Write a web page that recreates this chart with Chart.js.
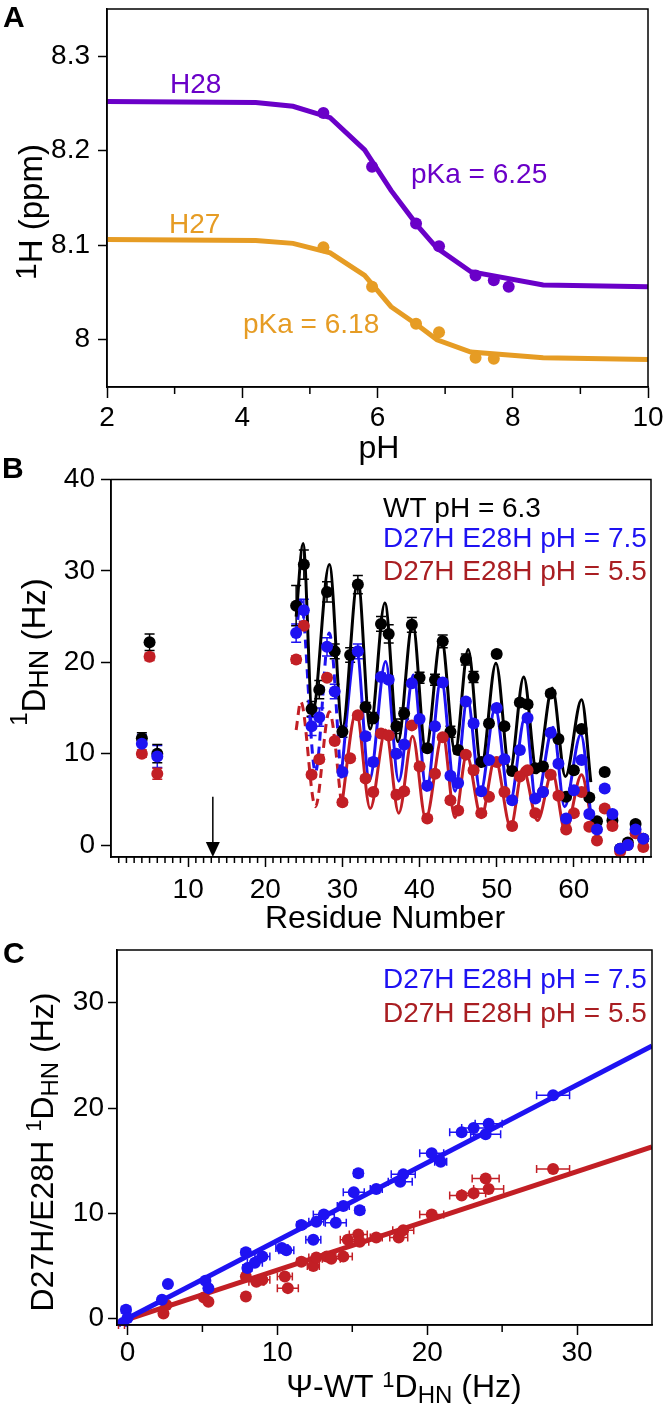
<!DOCTYPE html>
<html>
<head>
<meta charset="utf-8">
<script src="https://cdn.jsdelivr.net/npm/chart.js@4.4.1/dist/chart.umd.min.js"></script>
<style>
  body { margin: 0; background: #fff; }
  #wrap { position: relative; width: 664px; height: 1406px; }
  canvas { position: absolute; left: 0; }
</style>
</head>
<body>
<div id="wrap">
  <canvas id="chartA" width="664" height="470" style="top:0"></canvas>
  <canvas id="chartB" width="664" height="475" style="top:455px"></canvas>
  <canvas id="chartC" width="664" height="476" style="top:930px"></canvas>
</div>
<script>
const FONT = '"Liberation Sans", Arial, Helvetica, sans-serif';
Chart.defaults.font.family = FONT;
Chart.defaults.font.size = 28;
Chart.defaults.color = '#000';

const PURPLE = '#6a00c8', ORANGE = '#e69c24', BLUE = '#1e12f2', RED = '#c21f25', RED_TEXT = '#a91e22';

// ---- panel A: pH titration ----
const phH28 = [5.2, 5.92, 6.57, 6.91, 7.45, 7.72, 7.94];
const ppmH28 = [8.240, 8.183, 8.123, 8.099, 8.068, 8.063, 8.056];
const phH27 = [5.2, 5.92, 6.57, 6.91, 7.45, 7.72];
const ppmH27 = [8.098, 8.056, 8.017, 8.008, 7.981, 7.980];
const fitPh = [2, 4.2, 4.75, 5.3, 5.81, 6.2, 6.6, 6.88, 7.38, 8.45, 10];
const fitH28 = [8.252, 8.251, 8.247, 8.235, 8.201, 8.158, 8.120, 8.097, 8.072, 8.058, 8.056];
const fitH27 = [8.106, 8.105, 8.102, 8.092, 8.068, 8.035, 8.015, 8.000, 7.987, 7.981, 7.979];
const phTicks = [2, 4, 6, 8, 10];
const phMinor = [3, 5, 7, 9];
const ppmTicks = [8, 8.1, 8.2, 8.3];

// ---- panel B: RDC per residue ----
const residues = [4, 5, 6, 24, 25, 26, 27, 28, 29, 30, 31, 32, 33, 34, 35, 36, 37, 38, 39, 40, 41, 42, 43, 44, 45, 46,
  47, 48, 49, 50, 51, 52, 53, 54, 55, 56, 57, 58, 59, 60, 61, 62, 63, 64, 65, 66, 67, 68, 69];
const rdcWT = [11.7, 22.2, 10.0, 26.2, 30.7, 14.9, 17.0, 27.7, 21.2, 12.4, 20.8, 28.5, 15.1, 13.9, 24.2, 23.1, 13.0, 14.4,
  24.1, 18.3, 10.6, 18.1, 22.3, 12.4, 10.4, 20.3, 18.4, 9.1, 13.3, 20.9, 13.0, 8.1, 15.6, 15.4, 8.4, 8.6, 16.6, 11.6,
  5.3, 8.2, 12.7, 5.2, 2.6, 8.0, 2.7, -0.4, 0.3, 2.3, 0.7];
const errWT = [0.6, 0.9, 1.0, 2.2, 1.6, 0.8, 1.0, 1.1, 0.8, 0.6, 0.8, 1.0, 0.5, 0.6, 0.8, 1.0, 0.8, 0.6, 0.8, 0.6, 0.4,
  0.6, 0.7, 0.6, 0.4, 0.6, 0.6, 0.3, 0.3, 0.3, 0.3, 0.3, 0.3, 0.3, 0.3, 0.3, 0.3, 0.3, 0.3, 0.3, 0.3, 0.3, 0.3, 0.3,
  0.3, 0.3, 0.3, 0.3, 0.3];
const rdc75 = [11.1, null, 9.7, 23.2, 25.7, 13.0, 14.0, 21.7, 16.8, 8.0, null, 21.2, 11.9, 9.1, 18.4, 18.1, 10.0, 11.0,
  17.7, 13.8, 6.5, 13.0, 17.8, 7.6, 6.8, 15.7, 13.3, 5.9, 9.3, 15.0, 9.4, 4.9, 10.4, 13.9, 5.1, 5.8, 12.3, 8.9, 2.9,
  6.0, 9.3, 3.4, 1.7, 6.2, 3.4, -0.4, 0.0, 1.7, 0.7];
const err75 = [1.0, 0, 1.2, 1.0, 1.2, 1.0, 1.0, 1.0, 0.8, 0.4, 0, 0.8, 0.4, 0.4, 0.4, 0.4, 0.4, 0.3, 0.3, 0.3, 0.3,
  0.3, 0.3, 0.3, 0.3, 0.3, 0.3, 0.3, 0.3, 0.3, 0.3, 0.3, 0.3, 0.3, 0.3, 0.3, 0.3, 0.3, 0.3, 0.3, 0.3, 0.3, 0.3, 0.3,
  0.3, 0.3, 0.3, 0.3, 0.3];
const rdc55 = [10.0, 20.6, 7.8, 20.3, 24.0, 7.7, 9.4, 18.3, 11.4, 4.7, 9.5, 14.2, 7.3, 5.8, 12.2, 12.0, 5.5, 5.9, 13.1,
  8.6, 2.9, 7.8, 11.8, 4.9, 3.8, 9.9, 8.2, 3.5, 5.3, 9.1, 5.8, 2.1, 7.5, 8.2, 3.5, 5.8, 7.7, 5.4, 1.7, 3.5, 5.8, 2.0,
  0.5, 4.0, 2.1, -0.7, 0.0, 1.3, -0.2];
const err55 = [0.4, 0.4, 0.6, 0.4, 0.4, 0.3, 0.3, 0.3, 0.3, 0.3, 0.3, 0.3, 0.3, 0.3, 0.3, 0.3, 0.3, 0.3, 0.3, 0.3, 0.3,
  0.3, 0.3, 0.3, 0.3, 0.3, 0.3, 0.3, 0.3, 0.3, 0.3, 0.3, 0.3, 0.3, 0.3, 0.3, 0.3, 0.3, 0.3, 0.3, 0.3, 0.3, 0.3, 0.3,
  0.3, 0.3, 0.3, 0.3, 0.3];
// dipolar-wave curves, read at their crests and troughs
const waveWTx = [24.0, 24.9, 26.1, 28.3, 30.0, 32.0, 33.6, 35.5, 37.2, 39.1, 40.8, 42.8, 44.6, 46.3, 48.0, 49.9, 51.7,
  53.5, 55.2, 57.2, 58.9, 61.0, 62.2];
const waveWTy = [25.0, 33.0, 14.3, 30.7, 12.9, 29.0, 12.7, 26.5, 11.3, 24.3, 10.4, 22.8, 10.2, 21.4, 8.6, 19.9, 8.0,
  18.4, 7.9, 17.2, 7.5, 15.9, 6.9];
const wave75DashX = [24.0, 24.6, 26.5, 28.3, 29.8];
const wave75DashY = [23.0, 26.8, 8.0, 23.2, 7.3];
const wave75x = [29.8, 31.8, 33.5, 35.6, 37.3, 39.2, 40.9, 42.8, 44.6, 46.2, 47.9, 49.8, 51.7, 53.7, 55.1, 57.3, 58.8,
  60.9, 62.3];
const wave75y = [7.3, 21.6, 7.1, 20.1, 7.0, 18.6, 6.0, 18.2, 5.9, 16.0, 5.8, 15.0, 4.6, 14.1, 4.7, 12.9, 4.2, 12.1, 2.5];
const wave55DashX = [24.0, 24.6, 26.5, 28.3, 29.9];
const wave55DashY = [12.6, 15.7, 4.2, 14.6, 4.3];
const wave55x = [29.9, 31.8, 33.6, 35.6, 37.3, 39.1, 40.8, 43.0, 44.6, 46.1, 48.0, 49.8, 51.8, 53.4, 55.3, 57.2, 58.9,
  61.0, 62.3];
const wave55y = [4.3, 14.6, 4.0, 12.6, 3.5, 11.9, 2.9, 12.1, 3.0, 9.9, 3.1, 9.5, 2.0, 8.4, 2.7, 8.0, 1.5, 7.7, 2.6];
const resTicks = [10, 20, 30, 40, 50, 60];
const rdcTicks = [0, 10, 20, 30, 40];
const arrowResidue = 13.2, arrowFrom = 5.3;

// ---- panel C: correlation ----
const wtX75 = [-0.1, 0, -0.3, 2.3, 2.7, 5.2, 5.4, 7.9, 8.0, 8.5, 9.0, 10.3, 10.6, 11.6, 12.4, 12.6, 13.1, 13.9, 14.4,
  15.1, 15.4, 15.5, 16.6, 18.2, 18.4, 20.3, 20.9, 22.3, 23.1, 23.9, 24.1, 28.4];
const mutY75 = [0.85, 0.06, -0.4, 1.8, 3.3, 3.6, 2.9, 6.3, 4.8, 5.3, 5.9, 6.7, 6.5, 8.9, 7.5, 9.2, 9.9, 9.1, 10.7, 12.0,
  13.8, 10.3, 12.3, 13.0, 13.7, 15.7, 14.9, 17.7, 18.1, 17.5, 18.5, 21.2];
const wtErr75 = [0.3, 0.2, 0.2, 0.2, 0.2, 0.2, 0.2, 0.3, 0.3, 0.5, 0.5, 0.4, 0.5, 0.3, 0.5, 0.5, 0.7, 0.7, 0.4, 0.7,
  0.3, 0.3, 0.4, 0.8, 0.8, 0.8, 0.4, 0.8, 0.8, 1.0, 0.9, 1.1];
const wtX55 = [-0.4, 2.4, 2.6, 5.1, 5.4, 7.9, 7.9, 8.6, 9.0, 10.5, 10.7, 11.6, 12.4, 12.6, 13.3, 13.6, 14.4, 14.7, 15.4,
  15.5, 16.6, 18.1, 18.4, 20.3, 22.3, 23.1, 23.9, 24.1, 28.4];
const mutY55 = [-0.6, 0.5, 1.3, 2.0, 1.6, 2.1, 4.0, 3.5, 3.7, 4.0, 2.9, 5.4, 5.0, 5.8, 5.9, 5.7, 5.9, 7.5, 8.0, 7.3, 7.7,
  7.7, 8.4, 9.9, 11.7, 11.9, 13.3, 12.3, 14.2];
const wtErr55 = [0.2, 0.2, 0.2, 0.2, 0.2, 0.2, 0.2, 0.5, 0.5, 0.5, 0.7, 0.3, 0.4, 0.5, 0.6, 0.6, 0.6, 0.5, 0.6, 0.6, 0.4,
  0.6, 0.7, 0.8, 0.8, 0.8, 0.9, 1.0, 1.1];
const lineX = [-0.3, 35];
const line75 = [-0.2, 25.9];
const line55 = [-0.2, 16.3];
const hzTicks = [0, 10, 20, 30];
const hzMinor = [5, 15, 25];

const pts = (xs, ys, es) => xs.map((x, i) => ({ x: x, y: ys[i], e: es ? es[i] : 0 })).filter(p => p.y !== null);
const fmt = v => String(Math.round(v * 100) / 100);

function scaleX(min, max, ticks, h, tl, pad) {
  return {
    type: 'linear', position: 'bottom', min: min, max: max,
    afterBuildTicks: s => { s.ticks = ticks.map(v => ({ value: v })); },
    afterFit: s => { s.height = h; s.paddingLeft = 0; s.paddingRight = 0; },
    grid: { drawOnChartArea: false, tickLength: tl, tickWidth: 1.5, tickColor: '#000' },
    border: { color: '#000', width: 1.5 },
    ticks: { padding: pad, maxRotation: 0, autoSkip: false, callback: v => fmt(v) }
  };
}
function scaleY(min, max, ticks, w, tl, pad) {
  return {
    type: 'linear', position: 'left', min: min, max: max,
    afterBuildTicks: s => { s.ticks = ticks.map(v => ({ value: v })); },
    afterFit: s => { s.width = w; s.paddingTop = 0; s.paddingBottom = 0; },
    grid: { drawOnChartArea: false, tickLength: tl, tickWidth: 1.5, tickColor: '#000' },
    border: { color: '#000', width: 1.5 },
    ticks: { padding: pad, autoSkip: false, callback: v => fmt(v) }
  };
}

// text with super/subscripts; parts: {t, s, dy, c, b}
function rich(ctx, parts, x, y, opts) {
  opts = opts || {};
  ctx.save();
  ctx.translate(x, y);
  if (opts.rotate) ctx.rotate(-Math.PI / 2);
  ctx.textBaseline = 'alphabetic';
  let w = 0;
  parts.forEach(p => {
    ctx.font = (p.b ? 'bold ' : '') + p.s + 'px ' + FONT;
    p.w = ctx.measureText(p.t).width;
    w += p.w;
  });
  let cx = opts.align === 'left' ? 0 : -w / 2;
  parts.forEach(p => {
    ctx.font = (p.b ? 'bold ' : '') + p.s + 'px ' + FONT;
    ctx.fillStyle = p.c || opts.color || '#000';
    ctx.fillText(p.t, cx, p.dy || 0);
    cx += p.w;
  });
  ctx.restore();
}

function decoPlugin(cfg) {
  return {
    id: 'deco',
    beforeDatasetsDraw(chart) {
      const ctx = chart.ctx, xs = chart.scales.x, ys = chart.scales.y;
      ctx.save();
      ctx.lineWidth = 1.5;
      chart.data.datasets.forEach(ds => {
        if (!ds.errDir) return;
        ctx.strokeStyle = ds.pointBackgroundColor;
        ds.data.forEach(p => {
          if (!p.e) return;
          const px = xs.getPixelForValue(p.x), py = ys.getPixelForValue(p.y);
          ctx.beginPath();
          if (ds.errDir === 'y') {
            const a = ys.getPixelForValue(p.y + p.e), b = ys.getPixelForValue(p.y - p.e);
            ctx.moveTo(px, a); ctx.lineTo(px, b);
            ctx.moveTo(px - 5, a); ctx.lineTo(px + 5, a);
            ctx.moveTo(px - 5, b); ctx.lineTo(px + 5, b);
          } else {
            const a = xs.getPixelForValue(p.x - p.e), b = xs.getPixelForValue(p.x + p.e);
            ctx.moveTo(a, py); ctx.lineTo(b, py);
            ctx.moveTo(a, py - 4); ctx.lineTo(a, py + 4);
            ctx.moveTo(b, py - 4); ctx.lineTo(b, py + 4);
          }
          ctx.stroke();
        });
      });
      ctx.restore();
    },
    afterDraw(chart) {
      const ctx = chart.ctx, a = chart.chartArea, xs = chart.scales.x, ys = chart.scales.y;
      ctx.save();
      ctx.strokeStyle = '#000';
      ctx.lineWidth = 1.5;
      ctx.strokeRect(a.left, a.top, a.right - a.left, a.bottom - a.top);
      ctx.beginPath();
      (cfg.minorX || []).forEach(v => {
        const px = xs.getPixelForValue(v);
        ctx.moveTo(px, a.bottom); ctx.lineTo(px, a.bottom + cfg.minorLen);
      });
      ctx.stroke();
      if (cfg.arrow) {
        const px = xs.getPixelForValue(cfg.arrow.x);
        const top = ys.getPixelForValue(cfg.arrow.from), tip = a.bottom;
        ctx.fillStyle = '#000';
        ctx.beginPath(); ctx.moveTo(px, top); ctx.lineTo(px, tip - 10); ctx.stroke();
        ctx.beginPath(); ctx.moveTo(px - 7, tip - 15); ctx.lineTo(px + 7, tip - 15); ctx.lineTo(px, tip);
        ctx.closePath(); ctx.fill();
      }
      ctx.restore();
      (cfg.texts || []).forEach(t => rich(ctx, t.parts, t.x, t.y, t));
    }
  };
}

const base = {
  responsive: false, animation: false, devicePixelRatio: 1, events: [],
  plugins: { legend: { display: false }, tooltip: { enabled: false } }
};

// ---- chart A (canvas top 0) ----
new Chart(document.getElementById('chartA'), {
  type: 'scatter',
  data: {
    datasets: [
      { data: pts(phH28, ppmH28), pointRadius: 6, pointBackgroundColor: PURPLE, pointBorderWidth: 0 },
      { data: pts(phH27, ppmH27), pointRadius: 6, pointBackgroundColor: ORANGE, pointBorderWidth: 0 },
      { data: pts(fitPh, fitH28), showLine: true, pointRadius: 0, borderColor: PURPLE, borderWidth: 5, tension: 0 },
      { data: pts(fitPh, fitH27), showLine: true, pointRadius: 0, borderColor: ORANGE, borderWidth: 5, tension: 0 }
    ]
  },
  options: Object.assign({}, base, {
    layout: { padding: { top: 9, right: 16, left: 0, bottom: 0 } },
    scales: {
      x: scaleX(2, 10, phTicks, 470 - 387, 11, 3),
      y: scaleY(7.95, 8.35, ppmTicks, 107, 9, 8)
    }
  }),
  plugins: [decoPlugin({
    minorX: phMinor, minorLen: 7,
    texts: [
      { parts: [{ t: 'A', s: 30, b: true }], x: 3, y: 27, align: 'left' },
      { parts: [{ t: 'pH', s: 32 }], x: 379, y: 458 },
      { parts: [{ t: '1', s: 30, dy: -6 }, { t: 'H (ppm)', s: 33 }], x: 42, y: 212, rotate: true },
      { parts: [{ t: 'H28', s: 28 }], x: 170, y: 93, align: 'left', color: PURPLE },
      { parts: [{ t: 'pKa = 6.25', s: 28 }], x: 411, y: 183, align: 'left', color: PURPLE },
      { parts: [{ t: 'H27', s: 28 }], x: 169, y: 233, align: 'left', color: ORANGE },
      { parts: [{ t: 'pKa = 6.18', s: 28 }], x: 243, y: 333, align: 'left', color: ORANGE }
    ]
  })]
});

// ---- chart B (canvas top 455) ----
const wave = (xs, ys, color, dash) => ({
  data: pts(xs, ys), showLine: true, pointRadius: 0, borderColor: color, borderWidth: 3,
  borderDash: dash || [], cubicInterpolationMode: 'monotone'
});
new Chart(document.getElementById('chartB'), {
  type: 'scatter',
  data: {
    datasets: [
      { data: pts(residues, rdc75, err75), errDir: 'y', pointRadius: 6, pointBackgroundColor: BLUE, pointBorderWidth: 0 },
      { data: pts(residues, rdc55, err55), errDir: 'y', pointRadius: 6, pointBackgroundColor: RED, pointBorderWidth: 0 },
      { data: pts(residues, rdcWT, errWT), errDir: 'y', pointRadius: 6, pointBackgroundColor: '#000', pointBorderWidth: 0 },
      wave(waveWTx, waveWTy, '#000'),
      wave(wave75x, wave75y, BLUE),
      wave(wave75DashX, wave75DashY, BLUE, [9, 6]),
      wave(wave55x, wave55y, RED),
      wave(wave55DashX, wave55DashY, RED, [9, 6])
    ]
  },
  options: Object.assign({}, base, {
    layout: { padding: { top: 24.5, right: 13, left: 0, bottom: 0 } },
    scales: {
      x: scaleX(0, 70, resTicks, 475 - 402, 10, 6),
      y: scaleY(-1.3, 40, rdcTicks, 111, 10, 6)
    }
  }),
  plugins: [decoPlugin({
    minorX: Array.from({ length: 69 }, (_, i) => i + 1).filter(v => v % 10 !== 0), minorLen: 6,
    arrow: { x: arrowResidue, from: arrowFrom },
    texts: [
      { parts: [{ t: 'B', s: 30, b: true }], x: 2, y: 23, align: 'left' },
      { parts: [{ t: 'Residue Number', s: 32 }], x: 385, y: 473 },
      { parts: [{ t: '1', s: 24, dy: -18 }, { t: 'D', s: 33 }, { t: 'HN', s: 27, dy: 3 }, { t: ' (Hz)', s: 33 }],
        x: 45, y: 197, rotate: true },
      { parts: [{ t: 'WT pH = 6.3', s: 28 }], x: 383, y: 62, align: 'left' },
      { parts: [{ t: 'D27H E28H pH = 7.5', s: 28 }], x: 383, y: 92, align: 'left', color: BLUE },
      { parts: [{ t: 'D27H E28H pH = 5.5', s: 28 }], x: 383, y: 125, align: 'left', color: RED_TEXT }
    ]
  })]
});

// ---- chart C (canvas top 930) ----
new Chart(document.getElementById('chartC'), {
  type: 'scatter',
  data: {
    datasets: [
      { data: pts(wtX75, mutY75, wtErr75), errDir: 'x', pointRadius: 6, pointBackgroundColor: BLUE, pointBorderWidth: 0 },
      { data: pts(wtX55, mutY55, wtErr55), errDir: 'x', pointRadius: 6, pointBackgroundColor: RED, pointBorderWidth: 0 },
      { data: pts(lineX, line75), showLine: true, pointRadius: 0, borderColor: BLUE, borderWidth: 5 },
      { data: pts(lineX, line55), showLine: true, pointRadius: 0, borderColor: RED, borderWidth: 5 }
    ]
  },
  options: Object.assign({}, base, {
    layout: { padding: { top: 20, right: 12, left: 0, bottom: 0 } },
    scales: {
      x: scaleX(-0.7, 35, hzTicks, 476 - 395, 10, 1),
      y: scaleY(-0.6, 35, hzTicks, 117, 9, 4)
    }
  }),
  plugins: [decoPlugin({
    minorX: hzMinor, minorLen: 7,
    texts: [
      { parts: [{ t: 'C', s: 30, b: true }], x: 3, y: 33, align: 'left' },
      { parts: [{ t: 'Ψ-WT ', s: 32 }, { t: '1', s: 22, dy: -10 }, { t: 'D', s: 32 }, { t: 'HN', s: 24, dy: 6 },
        { t: ' (Hz)', s: 32 }], x: 404, y: 467 },
      { parts: [{ t: 'D27H/E28H ', s: 32 }, { t: '1', s: 22, dy: -12 }, { t: 'D', s: 32 }, { t: 'HN', s: 24, dy: 5 },
        { t: ' (Hz)', s: 32 }], x: 53, y: 222, rotate: true },
      { parts: [{ t: 'D27H E28H pH = 7.5', s: 28 }], x: 383, y: 58, align: 'left', color: BLUE },
      { parts: [{ t: 'D27H E28H pH = 5.5', s: 28 }], x: 383, y: 92, align: 'left', color: RED_TEXT }
    ]
  })]
});
</script>
</body>
</html>
